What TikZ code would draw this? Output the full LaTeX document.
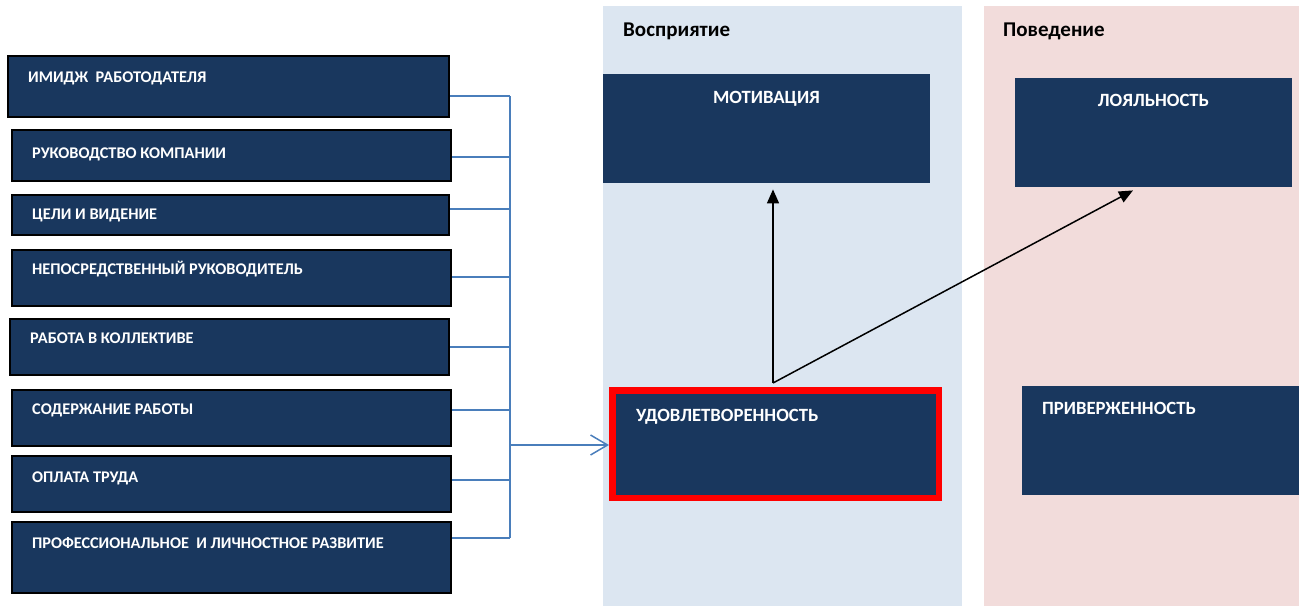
\documentclass[tikz,border=0pt]{standalone}
\usepackage{fontspec}
\setmainfont{Carlito}
\usetikzlibrary{arrows.meta,calc}

\definecolor{navy}{RGB}{25,55,94}
\definecolor{busblue}{RGB}{74,126,187}
\definecolor{percbg}{RGB}{220,230,241}
\definecolor{behbg}{RGB}{242,220,219}
\definecolor{hilite}{RGB}{255,0,0}

\tikzset{
  lbox/.style={draw=black, line width=2pt, fill=navy, inner sep=0pt, anchor=north west},
  rbox/.style={fill=navy, inner sep=0pt, anchor=north west},
  ltext/.style={anchor=base west, inner sep=0pt, text=white, font=\fontsize{16.3}{19}\selectfont\bfseries},
  rtext/.style={inner sep=0pt, text=white, font=\fontsize{18.7}{22}\selectfont\bfseries},
  head/.style={anchor=base west, inner sep=0pt, text=black, font=\fontsize{21}{25}\selectfont\bfseries},
  conn/.style={draw=busblue, line width=1.5pt},
  feed/.style={conn, -{Straight Barb[length=17pt,width=20pt,line width=1.5pt]}},
  link/.style={draw=black, line width=1.5pt, -{Triangle[length=14pt,width=12pt]}}
}

\begin{document}
\begin{tikzpicture}[x=1pt, y=-1pt]
\useasboundingbox (0,0) rectangle (1299,606);

% column backgrounds
\fill[percbg] (603,6) rectangle (962,606);
\fill[behbg] (984,6) rectangle (1299,606);
\node[head] (hperc) at (623,36) {Восприятие};
\node[head] (hbeh) at (1003,36) {Поведение};

% factor boxes
\node[lbox, minimum width=441pt, minimum height=61pt] (b1) at (7,55) {};
\node[lbox, minimum width=439pt, minimum height=51pt] (b2) at (11,129) {};
\node[lbox, minimum width=437pt, minimum height=40pt] (b3) at (11,194) {};
\node[lbox, minimum width=439pt, minimum height=56pt] (b4) at (11,249) {};
\node[lbox, minimum width=439pt, minimum height=56pt] (b5) at (9,318) {};
\node[lbox, minimum width=439pt, minimum height=56pt] (b6) at (11,389) {};
\node[lbox, minimum width=439pt, minimum height=56pt] (b7) at (11,455) {};
\node[lbox, minimum width=439pt, minimum height=71pt] (b8) at (11,521) {};

\node[ltext] (t1) at (28,82) {ИМИДЖ\ \ РАБОТОДАТЕЛЯ};
\node[ltext] (t2) at (32,158) {РУКОВОДСТВО КОМПАНИИ};
\node[ltext] (t3) at (32,219) {ЦЕЛИ И ВИДЕНИЕ};
\node[ltext] (t4) at (32,274) {НЕПОСРЕДСТВЕННЫЙ РУКОВОДИТЕЛЬ};
\node[ltext] (t5) at (30,343) {РАБОТА В КОЛЛЕКТИВЕ};
\node[ltext] (t6) at (32,414) {СОДЕРЖАНИЕ РАБОТЫ};
\node[ltext] (t7) at (32,482) {ОПЛАТА ТРУДА};
\node[ltext] (t8) at (32,548) {ПРОФЕССИОНАЛЬНОЕ\ \ И ЛИЧНОСТНОЕ РАЗВИТИЕ};

% outcome boxes
\node[rbox, minimum width=327pt, minimum height=109pt] (mot) at (603,74) {};
\node[rtext, anchor=base] (tmot) at (766.5,103) {МОТИВАЦИЯ};
\node[rbox, draw=hilite, line width=6.5pt, minimum width=326.5pt, minimum height=107.5pt,
      anchor=north west] (sat) at (609,387) {};
\node[rtext, anchor=base west] (tsat) at (636,421) {УДОВЛЕТВОРЕННОСТЬ};
\node[rbox, minimum width=277pt, minimum height=109pt] (loy) at (1015,78) {};
\node[rtext, anchor=base] (tloy) at (1153.5,106) {ЛОЯЛЬНОСТЬ};
\node[rbox, minimum width=277pt, minimum height=109pt] (com) at (1022,386) {};
\node[rtext, anchor=base west] (tcom) at (1042,414) {ПРИВЕРЖЕННОСТЬ};

% bus collecting the factors
\coordinate (j1) at (510,96);
\coordinate (j2) at (510,157);
\coordinate (j3) at (510,209);
\coordinate (j4) at (510,277);
\coordinate (j5) at (510,347);
\coordinate (j6) at (510,410);
\coordinate (j7) at (510,480);
\coordinate (j8) at (510,538);
\coordinate (ja) at (510,445);
\foreach \i in {1,...,8}{
  \draw[conn] (b\i.east |- j\i) -- (j\i);
}
\draw[conn] (j1) -- (j8);
\draw[feed] (ja) -- (sat.west |- ja);

% satisfaction leads to motivation and loyalty
\coordinate (src) at (773,383);
\coordinate (ltip) at ($(loy.south west)+(118,3)$);
\draw[link] (src) -- ($(src |- mot.south)+(0,6)$);
\draw[link] (src) -- (ltip);
\end{tikzpicture}
\end{document}
